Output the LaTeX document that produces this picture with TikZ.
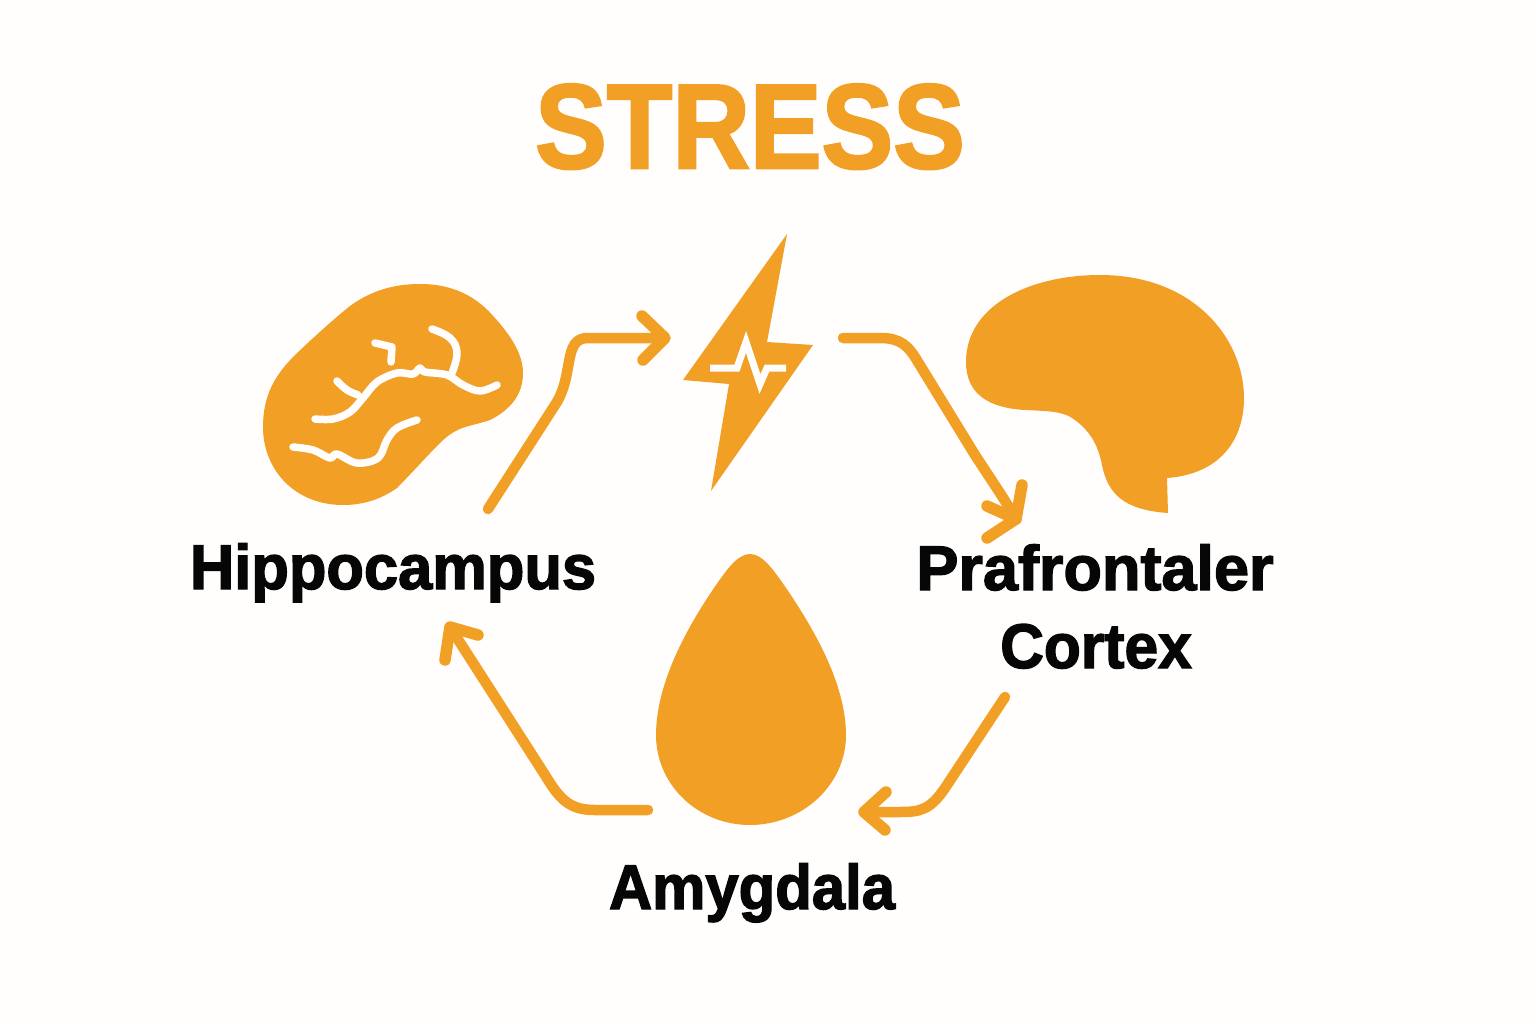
\documentclass[tikz,border=0pt]{standalone}
\usepackage{fontspec}
\setmainfont{Liberation Sans}
\newfontfamily\heavyfont[FakeBold=2.2]{Liberation Sans Bold}
\usetikzlibrary{arrows.meta}
\definecolor{bgc}{HTML}{FFFEFC}
\definecolor{org}{HTML}{F29F26}
\definecolor{ink}{HTML}{060606}
\tikzset{
  lab/.style={text=ink,font=\fontsize{63}{63}\selectfont\heavyfont,inner sep=0pt,anchor=base},
  conn/.style={draw=org,line width=10.5pt,line cap=round,line join=round},
  headmark/.style={draw=org,line width=11.5pt,line cap=round,line join=round},
  nerve/.style={draw=bgc,line width=7.5pt,line cap=round,line join=round},
  organ/.style={fill=org,draw=none}
}
\begin{document}
\begin{tikzpicture}[x=1pt,y=-1pt]
\useasboundingbox (0,0) rectangle (1536,1024);
\fill[bgc] (0,0) rectangle (1536,1024);
% title
\node[inner sep=0pt,anchor=base,text=org,font=\fontsize{120}{120}\selectfont\heavyfont] (title) at (750,168) {\scalebox{0.895}[1]{STRESS}};
% labels
\node[lab] (hip) at (393,589) {\scalebox{0.975}[1]{Hippocampus}};
\node[lab] (pfc1) at (1095,590) {\scalebox{1.0}[1]{Prafrontaler}};
\node[lab] (pfc2) at (1096,668) {\scalebox{0.96}[1]{Cortex}};
\node[lab] (amy) at (752,909) {\scalebox{0.95}[1]{Amygdala}};
% hippocampus
\fill[organ] (420,284) .. controls (455,284) and (478,298) .. (495,318)
  .. controls (512,337) and (523,355) .. (523,373)
  .. controls (523,395) and (510,410) .. (490,420)
  .. controls (470,427) and (458,425) .. (440,443)
  .. controls (425,458) and (410,475) .. (397,488)
  .. controls (380,500) and (362,505) .. (343,505)
  .. controls (295,505) and (263,470) .. (263,427)
  .. controls (263,395) and (275,375) .. (295,355)
  .. controls (315,336) and (335,318) .. (350,306)
  .. controls (372,290) and (395,284) .. (420,284) -- cycle;
\draw[nerve] plot[smooth,tension=0.6] coordinates {(315,419) (333,419) (350,412) (363,398) (377,382) (397,373) (413,374) (420,368) (425,372) (447,375) (463,385) (480,391) (497,385)};
\draw[nerve] plot[smooth,tension=0.6] coordinates {(337,381) (347,390) (358,395)};
\draw[nerve] plot[smooth,tension=0.7] coordinates {(432,329) (450,338) (457,353) (452,373)};
\draw[nerve] (375,343) -- (392,347) -- (391,362);
\draw[nerve] plot[smooth,tension=0.6] coordinates {(293,447) (313,450) (330,458) (337,454) (357,463) (378,458) (387,440) (397,428) (417,420)};
% bolt
\fill[organ] (787,234) -- (767,342) -- (813,345) -- (711,491) -- (729,384) -- (683,380) -- cycle;
\draw[bgc,line width=7pt,line join=miter,miter limit=10] (710,368) -- (737,368) -- (746,342) -- (760,384) -- (767,368) -- (786,368);
% brain
\fill[organ] (1167,478) .. controls (1220,474) and (1244,440) .. (1244,398)
  .. controls (1244,340) and (1195,275) .. (1100,275)
  .. controls (1030,275) and (966,305) .. (966,362)
  .. controls (966,395) and (990,408) .. (1025,410)
  .. controls (1045,411) and (1062,411) .. (1072,418)
  .. controls (1090,430) and (1098,445) .. (1102,465)
  .. controls (1108,495) and (1125,510) .. (1168,513) -- cycle;
% amygdala
\fill[organ] (750,554) .. controls (738,554) and (728,568) .. (716,585)
  .. controls (685,630) and (656,685) .. (656,735)
  .. controls (656,785) and (698,825) .. (750,825)
  .. controls (802,825) and (846,785) .. (846,735)
  .. controls (846,685) and (815,630) .. (784,585)
  .. controls (772,568) and (762,554) .. (750,554) -- cycle;
% connectors
\coordinate (a1s) at (488,509); \coordinate (a1e) at (665,338);
\coordinate (a1u) at (642,316); \coordinate (a1d) at (643,360);
\coordinate (a2s) at (843,338); \coordinate (a2e) at (1016,519);
\coordinate (a2u) at (1022,485); \coordinate (a2l) at (987,506); \coordinate (a2d) at (987,538);
\coordinate (a3s) at (1005,697); \coordinate (a3e) at (864,812);
\coordinate (a3u) at (886,792); \coordinate (a3d) at (885,830);
\coordinate (a4s) at (648,810); \coordinate (a4e) at (450,627);
\coordinate (a4r) at (478,635); \coordinate (a4d) at (445,660);
\draw[conn] (a1s) -- (555,405) .. controls (575,375) and (562,338) .. (588,338) -- (a1e);
\draw[headmark] (a1u) -- (a1e) -- (a1d);
\draw[conn] (a2s) -- (880,338) .. controls (900,338) and (908,345) .. (918,362) -- (975,455) .. controls (990,478) and (1005,500) .. (a2e);
\draw[headmark] (a2u) -- (a2e) -- (a2d);
\draw[headmark] (a2l) -- (a2e);
\draw[conn] (a3s) -- (945,788) .. controls (930,810) and (920,812) .. (900,812) -- (a3e);
\draw[headmark] (a3u) -- (a3e) -- (a3d);
\draw[conn] (a4s) -- (595,810) .. controls (570,810) and (560,800) .. (545,775) -- (a4e);
\draw[headmark] (a4r) -- (a4e) -- (a4d);
\end{tikzpicture}
\end{document}
